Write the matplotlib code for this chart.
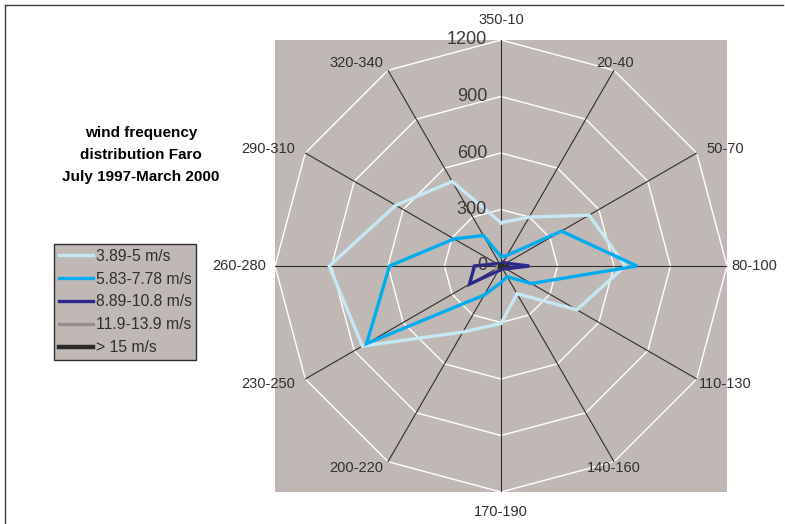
import numpy as np
import matplotlib
matplotlib.use("Agg")
import matplotlib.pyplot as plt
from matplotlib.lines import Line2D

plt.rcParams['font.family'] = ['Liberation Sans', 'DejaVu Sans']

# wind direction sectors, clockwise from north
sectors = ["350-10", "20-40", "50-70", "80-100", "110-130", "140-160",
           "170-190", "200-220", "230-250", "260-280", "290-310", "320-340"]

# frequency per sector for each wind speed class
speed_3_5 = [230, 300, 540, 660, 465, 170, 305, 405, 850, 912, 645, 518]
speed_6_8 = [50, 65, 370, 722, 186, 65, 88, 178, 824, 592, 288, 187]
speed_9_11 = [10, 25, 30, 151, 30, 15, 20, 30, 193, 141, 25, 12]
speed_12_14 = [3, 4, 5, 20, 5, 3, 3, 5, 25, 15, 4, 3]
speed_15 = [2, 2, 2, 6, 2, 1, 1, 2, 6, 5, 2, 1]

series_labels = ["3.89-5 m/s", "5.83-7.78 m/s", "8.89-10.8 m/s",
                 "11.9-13.9 m/s", "> 15 m/s"]
series_colors = ["#C6E7F4", "#00AEEF", "#2B2A8C", "#968C8C", "#2A2A2A"]
series_widths = [2.4, 2.4, 2.4, 2.4, 3.2]

ring_values = [300, 600, 900, 1200]
r_ticks = [0, 300, 600, 900, 1200]

W, H = 785, 524
fig = plt.figure(figsize=(W / 100, H / 100), dpi=100)
fig.patch.set_facecolor("white")

# square plot area (grey), polar axes drawn on top of it
rect = [275 / W, 32 / H, 452 / W, 452 / H]
bg = fig.add_axes(rect, zorder=0)
bg.set_facecolor("#C0B8B5")
bg.set_xticks([])
bg.set_yticks([])
for s in bg.spines.values():
    s.set_visible(False)

ax = fig.add_axes(rect, projection="polar", zorder=1)
ax.patch.set_alpha(0)
ax.set_theta_zero_location("N")
ax.set_theta_direction(-1)
ax.set_ylim(0, 1200)
ax.grid(False)
ax.set_xticks([])
ax.set_yticks([])
ax.spines["polar"].set_visible(False)

n = len(sectors)
angles = np.arange(n) * 2 * np.pi / n
closed = np.append(angles, angles[0])

# polygon gridlines and spokes
for v in ring_values:
    ax.plot(closed, [v] * (n + 1), color="white", lw=1.0, zorder=1)
for a in angles:
    ax.plot([a, a], [0, 1200], color="#2E2E2E", lw=0.8, zorder=2)

all_series = [speed_3_5, speed_6_8, speed_9_11, speed_12_14, speed_15]
handles = []
for vals, lab, col, lw in zip(all_series, series_labels, series_colors, series_widths):
    vv = np.append(vals, vals[0])
    ln, = ax.plot(closed, vv, color=col, lw=lw, label=lab, zorder=3,
                  solid_joinstyle="miter")
    handles.append(ln)

# radial value labels along the north spoke
for v in r_ticks:
    ax.annotate(str(v), xy=(0, v), xytext=(-14, 0), textcoords="offset pixels",
                ha="right", va="center", fontsize=13, color="#3A3A3A")

# sector labels, offsets in pixels from the end of each spoke
label_offsets = [(0, 20), (1, 7), (29, 4), (27, 0), (29, -5), (0, -6),
                 (0, -20), (-32, -6), (-37, -5), (-36, 0), (-37, 4), (-32, 7)]
for a, lab, off in zip(angles, sectors, label_offsets):
    ax.annotate(lab, xy=(a, 1200), xytext=off, textcoords="offset pixels",
                ha="center", va="center", fontsize=10.5, color="#303030",
                annotation_clip=False)

fig.text(141 / W, 1 - 155 / H,
         "wind frequency\ndistribution Faro\nJuly 1997-March 2000",
         ha="center", va="center", fontsize=11, fontweight="bold",
         linespacing=1.75, color="black")

leg = fig.legend(handles=handles, loc="upper left",
                 bbox_to_anchor=(54 / W, 1 - 244 / H), fontsize=11.3,
                 frameon=True, fancybox=False, facecolor="#C0B8B5",
                 edgecolor="#303030", framealpha=1, borderpad=0.3,
                 labelspacing=0.5, handlelength=2.2, handletextpad=0.15,
                 borderaxespad=0)
leg.get_frame().set_linewidth(1.0)
for t in leg.get_texts():
    t.set_color("#303030")

# outer frame lines at top and left
fig.add_artist(Line2D([5 / W, 783 / W], [1 - 5 / H, 1 - 5 / H],
                      transform=fig.transFigure, color="#404040", lw=1))
fig.add_artist(Line2D([5 / W, 5 / W], [0, 1 - 5 / H],
                      transform=fig.transFigure, color="#404040", lw=1))

fig.savefig("out.png", dpi=100, facecolor="white")
